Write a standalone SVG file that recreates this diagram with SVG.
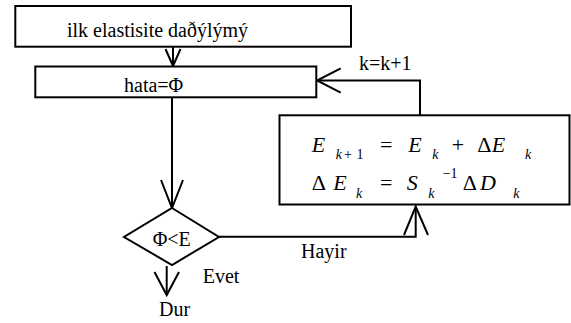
<svg xmlns="http://www.w3.org/2000/svg" width="571" height="323" viewBox="0 0 571 323">
  <style>
    .box { fill: #fff; stroke: #000; stroke-width: 2; }
    .ln { fill: none; stroke: #000; stroke-width: 2; }
    text { font-family: "Liberation Serif", "Times New Roman", "DejaVu Serif", serif; fill: #000; }
    .t { font-size: 20px; }
    .m { font-size: 22px; font-style: italic; }
    .mu { font-size: 22px; }
    .s { font-size: 14px; font-style: italic; }
    .su { font-size: 14px; }
  </style>
  <rect width="571" height="323" fill="#fff"/>

  <g id="connectors">
    <!-- start box to error box -->
    <line class="ln" x1="173" y1="46.7" x2="173" y2="66"/>
    <polyline class="ln" points="165.5,49 173,66 180.5,49"/>
    <!-- error box to decision -->
    <line class="ln" x1="172" y1="97.3" x2="172" y2="208"/>
    <polyline class="ln" points="161,180 172,208 183,180"/>
    <!-- decision: yes -> stop -->
    <line class="ln" x1="166.7" y1="266" x2="166.7" y2="295"/>
    <polyline class="ln" points="154.5,272 166.7,295 179,272"/>
    <!-- decision: no -> update box -->
    <polyline class="ln" points="219,236.7 415.7,236.7 415.7,206.5"/>
    <polyline class="ln" points="404,235 415.7,206.5 428,235"/>
    <!-- update box back to error box -->
    <polyline class="ln" points="420,115.3 420,80.5 317,80.5"/>
    <polyline class="ln" points="340.7,68.3 317,80.5 340.7,92.7"/>
  </g>

  <g id="start">
    <rect class="box" x="15.3" y="6" width="335.7" height="40.7"/>
    <text class="t" x="67" y="37">ilk elastisite daðýlýmý</text>
  </g>

  <g id="error">
    <rect class="box" x="35.3" y="66.5" width="281" height="30.8"/>
    <text class="t" x="124" y="92">hata=Φ</text>
  </g>

  <g id="update">
    <rect class="box" x="279.5" y="115.3" width="290" height="89.2"/>
    <!-- E_{k+1} = E_k + ΔE_k -->
    <text class="m" x="311.7" y="151.7">E</text>
    <text class="s" x="335.7" y="159">k</text>
    <text class="su" x="344" y="159">+</text>
    <text class="su" x="356.5" y="159">1</text>
    <text class="mu" x="380" y="151.7">=</text>
    <text class="m" x="408.3" y="151.7">E</text>
    <text class="s" x="432.3" y="159">k</text>
    <text class="mu" x="451.7" y="151.7">+</text>
    <text class="mu" x="477.3" y="151.7">Δ</text>
    <text class="m" x="491.7" y="151.7">E</text>
    <text class="s" x="525" y="159">k</text>
    <!-- ΔE_k = S_k^{-1} ΔD_k -->
    <text class="mu" x="311.7" y="190">Δ</text>
    <text class="m" x="333.3" y="190">E</text>
    <text class="s" x="356" y="197.7">k</text>
    <text class="mu" x="380" y="190">=</text>
    <text class="m" x="406.7" y="190">S</text>
    <text class="s" x="428.3" y="197.7">k</text>
    <text class="su" x="442.7" y="178.3">−1</text>
    <text class="mu" x="462.7" y="190">Δ</text>
    <text class="m" x="480" y="190">D</text>
    <text class="s" x="513.3" y="197.7">k</text>
  </g>

  <g id="decision">
    <polygon class="box" points="172,208 219,237 172,265 124,237"/>
    <text class="t" x="152.7" y="246">Φ&lt;E</text>
  </g>

  <g id="labels">
    <text class="t" x="359" y="70">k=k+1</text>
    <text class="t" x="301" y="258">Hayir</text>
    <text class="t" x="202.7" y="283">Evet</text>
    <text class="t" x="159" y="316">Dur</text>
  </g>
</svg>
